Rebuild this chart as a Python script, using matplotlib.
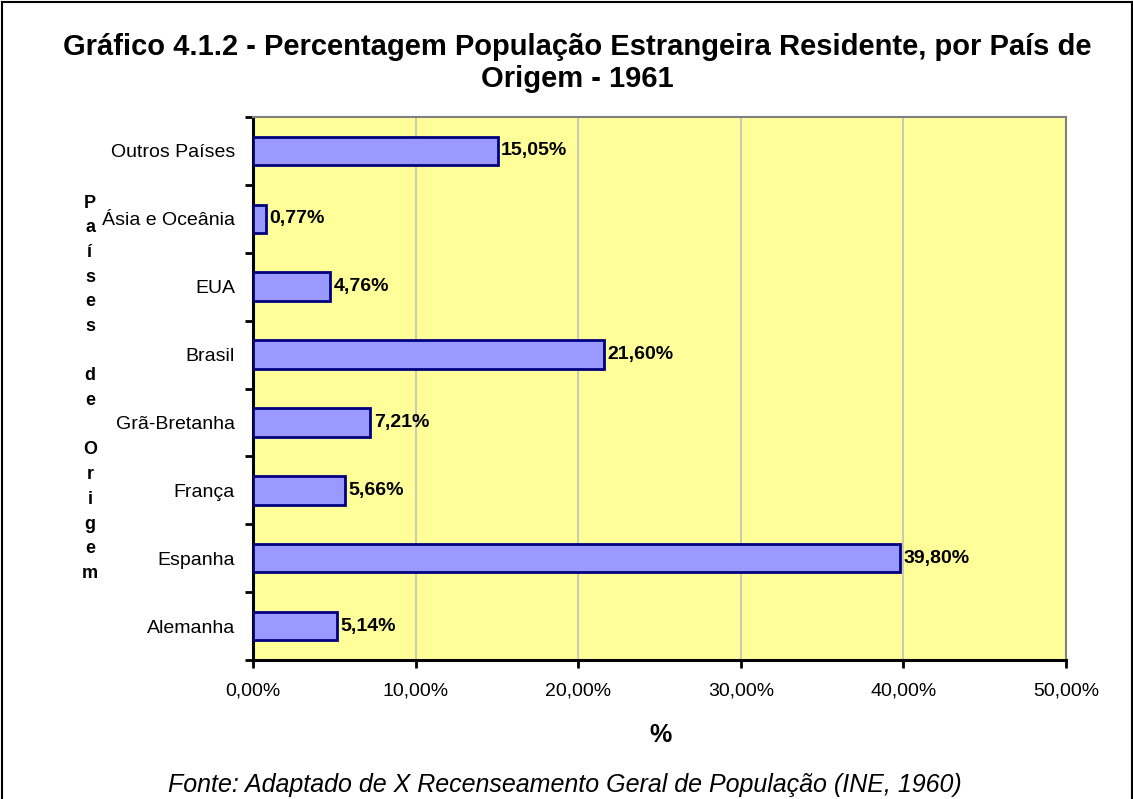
import matplotlib
matplotlib.use("Agg")
import matplotlib.pyplot as plt
import numpy as np
from matplotlib.ticker import FixedLocator, FuncFormatter
from matplotlib.lines import Line2D

categories = ["Alemanha", "Espanha", "França", "Grã-Bretanha", "Brasil", "EUA",
              "Ásia e Oceânia", "Outros Países"]
values = [5.14, 39.80, 5.66, 7.21, 21.60, 4.76, 0.77, 15.05]
x_ticks = [0, 10, 20, 30, 40, 50]
title = "Gráfico 4.1.2 - Percentagem População Estrangeira Residente, por País de\nOrigem - 1961"
ylabel = "Países de Origem"
xlabel = "%"
source = "Fonte: Adaptado de X Recenseamento Geral de População (INE, 1960)"

plt.rcParams['font.family'] = ['Liberation Sans', 'DejaVu Sans']

W, H = 1133, 799
fig = plt.figure(figsize=(W / 100, H / 100), dpi=100)
ax = fig.add_axes([253 / W, 1 - 660 / H, (1066 - 253) / W, (660 - 117) / H])
ax.set_facecolor("#FFFF99")

y = np.arange(len(categories))
ax.barh(y, values, height=0.42, color="#9999FF", edgecolor="#000080", linewidth=2, zorder=3)

for yi, v in zip(y, values):
    ax.annotate(f"{v:.2f}%".replace(".", ","), xy=(v, yi), xytext=(2.5, 0),
                textcoords="offset points", va="center", ha="left",
                fontsize=14, fontweight="bold", zorder=4)

ax.set_xlim(0, 50)
ax.set_ylim(-0.5, len(categories) - 0.5)
ax.xaxis.set_major_locator(FixedLocator(x_ticks))
ax.xaxis.set_major_formatter(FuncFormatter(lambda v, p: f"{v:.2f}%".replace(".", ",")))
ax.set_yticks(y)
ax.set_yticklabels(categories)
ax.yaxis.set_minor_locator(FixedLocator(np.arange(-0.5, len(categories), 1)))
ax.tick_params(axis="y", which="major", length=0, pad=13, labelsize=14)
ax.tick_params(axis="y", which="minor", length=6, width=2, direction="out")
ax.tick_params(axis="x", which="major", length=6, width=2, direction="out", pad=10, labelsize=14)

ax.grid(axis="x", color="#C0C0C0", linewidth=1.2, zorder=0)
ax.set_axisbelow(True)
for s in ["left", "bottom"]:
    ax.spines[s].set_linewidth(2.2)
    ax.spines[s].set_color("black")
for s in ["top", "right"]:
    ax.spines[s].set_linewidth(1.5)
    ax.spines[s].set_color("#808080")

fig.text(577 / W, 1 - 63 / H, title, ha="center", va="center", fontsize=21,
         fontweight="bold", linespacing=1.15)
fig.text(661 / W, 1 - 735 / H, xlabel, ha="center", va="center", fontsize=18, fontweight="bold")
fig.text(565 / W, 1 - 785 / H, source, ha="center", va="center", fontsize=18, style="italic")

# vertical stacked y label
letters = list(ylabel)
y0, step = 203, 24.7
for i, ch in enumerate(letters):
    if ch.strip():
        fig.text(90 / W, 1 - (y0 + i * step) / H, ch, ha="center", va="center",
                 fontsize=13, fontweight="bold")

# figure border
for xs, ys in [([1.5 / W, 1.5 / W], [0, 1 - 1.5 / H]),
               ([1.5 / W, 1 - 1.5 / W], [1 - 1.5 / H, 1 - 1.5 / H]),
               ([1 - 1.5 / W, 1 - 1.5 / W], [0, 1 - 1.5 / H])]:
    fig.add_artist(Line2D(xs, ys, color="black", linewidth=1.5, transform=fig.transFigure))

fig.savefig("out.png", dpi=100, facecolor="white")
